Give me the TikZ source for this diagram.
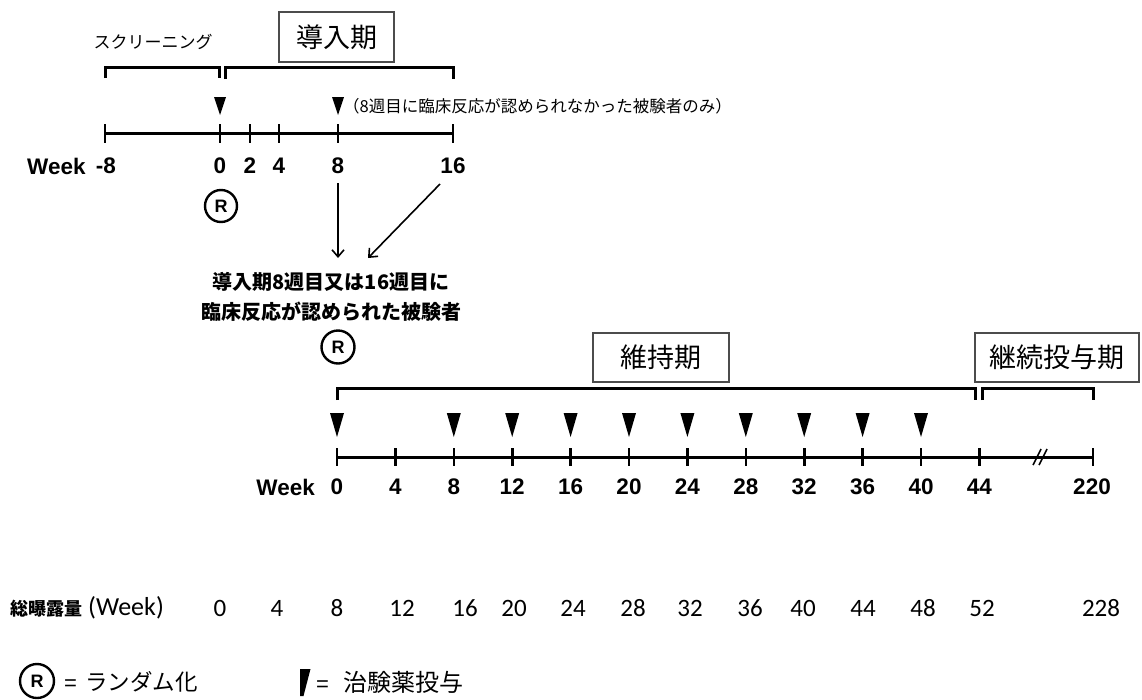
\documentclass[tikz,border=0pt]{standalone}
\usepackage{fontspec}
\setmainfont{Liberation Sans}
\newfontfamily\jp{Noto Sans CJK JP}
\newfontfamily\carlito{Carlito}
\usetikzlibrary{arrows.meta}
\begin{document}
\begin{tikzpicture}[x=1pt,y=-1pt,
  tline/.style={line width=3pt},
  tickl/.style={line width=2.6pt},
  brkt/.style={line width=3pt},
  rmark/.style={circle,draw,line width=2.4pt,minimum size=32pt,inner sep=0pt,font=\fontsize{18}{18}\selectfont\bfseries},
  phase/.style={draw=black!70,line width=1.2pt,font=\jp\fontsize{27}{30}\selectfont,inner sep=0pt},
  wk/.style={font=\fontsize{22.5}{25}\selectfont\bfseries,inner sep=0pt},
  expo/.style={font=\carlito\fontsize{25}{27}\selectfont,inner sep=0pt},
  jptxt/.style={font=\jp\fontsize{16.5}{18}\selectfont,inner sep=0pt},
  arr/.style={line width=1.6pt,-{Straight Barb[length=7pt,width=12pt]}},
]
\useasboundingbox[fill=white] (0,0) rectangle (1142,699);

% ---------- top: screening / induction ----------
\node[jptxt,font=\jp\fontsize{17}{18}\selectfont] (scr) at (153,42) {スクリーニング};
\node[phase,minimum width=115pt,minimum height=50pt] (ind) at (336.5,37) {導入期};
\draw[brkt] (105,78) -- (105,67) -- (219,67) -- (219,78);
\draw[brkt] (225,79) -- (225,67) -- (453,67) -- (453,79);

\coordinate (t0) at (105,133);
\coordinate (t1) at (453,133);
\draw[tline] (t0) -- (t1);
\foreach \x in {105,220,250,279,338,453}{
  \draw[tickl] (\x,124) -- (\x,143);
}
\node[wk,anchor=west] (wkA) at (27,166) {Week};
\node[wk] (lm8) at (106,166) {-8};
\node[wk] (l0) at (220,166) {0};
\node[wk] (l2) at (250,166) {2};
\node[wk] (l4) at (279,166) {4};
\node[wk] (l8) at (338,166) {8};
\node[wk] (l16) at (453,166) {16};

\foreach \x in {220,338}{
  \fill (\x-6,97) -- (\x+6,97) -- (\x,115) -- cycle;
}
\node[jptxt,anchor=west] (note) at (343,106) {（8週目に臨床反応が認められなかった被験者のみ）};

\node[rmark] (r1) at (221,206) {R};

% ---------- arrows and middle text ----------
\coordinate (a8s) at (338,183);
\coordinate (a8e) at (338,258);
\coordinate (a16s) at (440,184);
\coordinate (a16e) at (368,258);
\draw[arr] (a8s) -- (a8e);
\draw[arr] (a16s) -- (a16e);
\node[font=\jp\bfseries\fontsize{20}{30}\selectfont,align=center,inner sep=0pt] (mid) at (331,297)
  {導入期8週目又は16週目に\\臨床反応が認められた被験者};

\node[rmark,minimum size=33pt] (r2) at (338,347) {R};

% ---------- maintenance ----------
\node[phase,minimum width=136pt,minimum height=49pt] (maint) at (661,357.5) {維持期};
\node[phase,minimum width=164pt,minimum height=49pt] (cont) at (1057,357.5) {継続投与期};
\draw[brkt] (337,400) -- (337,388) -- (975,388) -- (975,400);
\draw[brkt] (982,400) -- (982,388) -- (1093,388) -- (1093,400);

\coordinate (b0) at (337,457);
\coordinate (bE) at (1093,457);
\draw[tline] (b0) -- (bE);
\foreach \i in {0,...,11}{
  \draw[tickl] (337+58.4*\i,448) -- (337+58.4*\i,466);
}
\draw[tickl] (1093,448) -- (1093,466);
\draw[line width=1.6pt] (1033,465) -- (1041,449);
\draw[line width=1.6pt] (1039,465) -- (1047,449);

\foreach \i in {0,2,3,4,5,6,7,8,9,10}{
  \fill (337+58.4*\i-7,413) -- (337+58.4*\i+7,413) -- (337+58.4*\i,437) -- cycle;
}

\node[wk,anchor=east] (wkB) at (315,487) {Week};
\foreach \i/\w in {0/0,1/4,2/8,3/12,4/16,5/20,6/24,7/28,8/32,9/36,10/40,11/44}{
  \node[wk] (lb\w) at (337+58.4*\i,487) {\w};
}
\node[wk] (lb220) at (1092,487) {220};

% ---------- exposure row ----------
\node[anchor=west,inner sep=0pt] (expl) at (10,608)
  {{\jp\bfseries\fontsize{18}{20}\selectfont 総曝露量}\hspace{6pt}{\carlito\fontsize{26}{28}\selectfont (Week)}};
\foreach \x/\v in {220/0,277/4,337/8,402/12,465/16,514/20,573/24,633/28,690/32,750/36,803/40,863/44,923/48,982/52,1101/228}{
  \node[expo] (e\v) at (\x,608) {\v};
}

% ---------- legend ----------
\node[rmark,minimum size=34pt] (rl) at (37,681) {R};
\node[anchor=west,inner sep=0pt] (legR) at (64,682) {{\fontsize{22}{24}\selectfont =}\hspace{8pt}{\jp\fontsize{22.5}{26}\selectfont ランダム化}};
\fill (300,669) -- (310.5,669) -- (303.5,696) -- (300,696) -- cycle;
\node[anchor=west,inner sep=0pt] (legD) at (316,682) {{\fontsize{22}{24}\selectfont =}\hspace{14pt}{\jp\fontsize{24}{26}\selectfont 治験薬投与}};
\end{tikzpicture}
\end{document}
